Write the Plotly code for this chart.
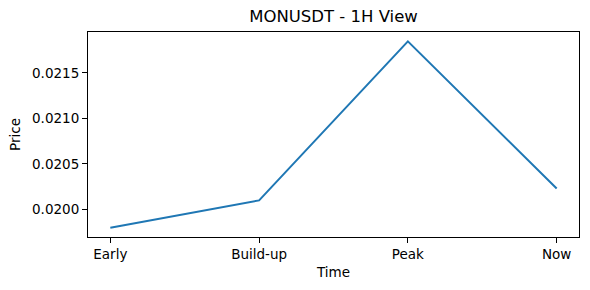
import plotly.graph_objects as go

categories = ["Early", "Build-up", "Peak", "Now"]
prices = [0.01980, 0.02010, 0.021848, 0.02023]
y_ticks = [0.0200, 0.0205, 0.0210, 0.0215]
y_tick_text = ["0.0200", "0.0205", "0.0210", "0.0215"]

FONT = "DejaVu Sans"

fig = go.Figure()
fig.add_trace(go.Scatter(
    x=list(range(len(categories))), y=prices, mode="lines",
    line=dict(color="#1f77b4", width=2), showlegend=False, hoverinfo="skip"))

ymin, ymax = min(prices), max(prices)
pad = (ymax - ymin) * 0.05

axis_common = dict(showline=True, linecolor="black", linewidth=1.1, mirror=True,
                   ticks="outside", ticklen=5, tickwidth=1.1, tickcolor="black",
                   showgrid=False, zeroline=False,
                   tickfont=dict(family=FONT, size=13.5, color="black"))

fig.update_layout(
    width=590, height=290,
    margin=dict(l=88, r=11, t=32, b=53),
    paper_bgcolor="white", plot_bgcolor="white",
    font=dict(family=FONT, color="black"),
    title=dict(text="MONUSDT - 1H View", x=(88 + 579) / 2 / 590, xanchor="center",
               y=1 - 16.5 / 290, yanchor="middle", yref="container",
               font=dict(family=FONT, size=16.5, color="black")),
    xaxis=dict(axis_common, tickvals=list(range(len(categories))), ticktext=categories,
               range=[-0.15, len(categories) - 1 + 0.15],
               title=dict(text="Time", standoff=6, font=dict(family=FONT, size=13.5))),
    yaxis=dict(axis_common, tickvals=y_ticks, ticktext=y_tick_text,
               range=[ymin - pad, ymax + pad],
               title=dict(text="Price", standoff=8, font=dict(family=FONT, size=13.5))),
)

fig.write_html("out.html")
